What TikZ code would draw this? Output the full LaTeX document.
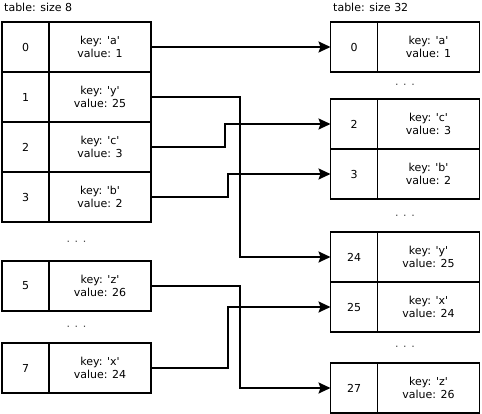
\documentclass[tikz,border=0pt]{standalone}
\usepackage{fontspec}
\setmainfont{DejaVu Sans}[Ligatures=TeXOff]
\usetikzlibrary{arrows.meta}
\usetikzlibrary{positioning}
\tikzset{
    >={Stealth[width=11pt,length=12pt,inset=2pt]},
    base/.style =   {
                        rectangle, draw=black, line width=1.8pt,
                        minimum height=50pt, inner sep=0pt, outer sep=0pt,
                        text centered, font=\fontsize{11}{13}\selectfont
                    },
    slot/.style = {base, minimum width=47pt},
    entry/.style = {base, minimum width=102pt, align=center},
    dots/.style = {inner sep=0pt, font=\fontsize{11}{13}\selectfont, text=black!70},
    caption/.style = {anchor=west, inner sep=0pt, font=\fontsize{11}{13}\selectfont},
    link/.style = {->, line width=1.8pt}
}

\begin{document}
\begin{tikzpicture}[x=1pt, y=-1pt]
    \useasboundingbox (0,0) rectangle (482,413);

    % old table
    \node (lcap)  [caption] at (4,7) {table: size 8};
    \node (lidx0) [slot] at (25.5,47) {0};
    \node (lval0) [entry, right=0pt of lidx0] {key: 'a'\\value: 1};
    \node (lidx1) [slot, below=0pt of lidx0] {1};
    \node (lval1) [entry, right=0pt of lidx1] {key: 'y'\\value: 25};
    \node (lidx2) [slot, below=0pt of lidx1] {2};
    \node (lval2) [entry, right=0pt of lidx2] {key: 'c'\\value: 3};
    \node (lidx3) [slot, below=0pt of lidx2] {3};
    \node (lval3) [entry, right=0pt of lidx3] {key: 'b'\\value: 2};
    \node (ldots1) [dots] at (76.5,242) {. . .};
    \node (lidx5) [slot, below=39pt of lidx3] {5};
    \node (lval5) [entry, right=0pt of lidx5] {key: 'z'\\value: 26};
    \node (ldots2) [dots] at (76.5,327) {. . .};
    \node (lidx7) [slot, below=32pt of lidx5] {7};
    \node (lval7) [entry, right=0pt of lidx7] {key: 'x'\\value: 24};

    % new table
    \node (rcap)  [caption] at (333,7) {table: size 32};
    \node (ridx0) [slot] at (354,47) {0};
    \node (rval0) [entry, right=0pt of ridx0] {key: 'a'\\value: 1};
    \node (rdots1) [dots] at (405,85) {. . .};
    \node (ridx2) [slot, below=27pt of ridx0] {2};
    \node (rval2) [entry, right=0pt of ridx2] {key: 'c'\\value: 3};
    \node (ridx3) [slot, below=0pt of ridx2] {3};
    \node (rval3) [entry, right=0pt of ridx3] {key: 'b'\\value: 2};
    \node (rdots2) [dots] at (405,216) {. . .};
    \node (ridx24) [slot, below=33pt of ridx3] {24};
    \node (rval24) [entry, right=0pt of ridx24] {key: 'y'\\value: 25};
    \node (ridx25) [slot, below=0pt of ridx24] {25};
    \node (rval25) [entry, right=0pt of ridx25] {key: 'x'\\value: 24};
    \node (rdots3) [dots] at (405,347) {. . .};
    \node (ridx27) [slot, below=31pt of ridx25] {27};
    \node (rval27) [entry, right=0pt of ridx27] {key: 'z'\\value: 26};

    \draw[link] (lval0.east) -- (ridx0.west);
    \draw[link] (lval1.east) -- ++(89,0) |- (ridx24.west);
    \draw[link] (lval2.east) -- ++(74,0) |- (ridx2.west);
    \draw[link] (lval3.east) -- ++(77,0) |- (ridx3.west);
    \draw[link] (lval5.east) -- ++(89,0) |- (ridx27.west);
    \draw[link] (lval7.east) -- ++(77,0) |- (ridx25.west);
\end{tikzpicture}
\end{document}
